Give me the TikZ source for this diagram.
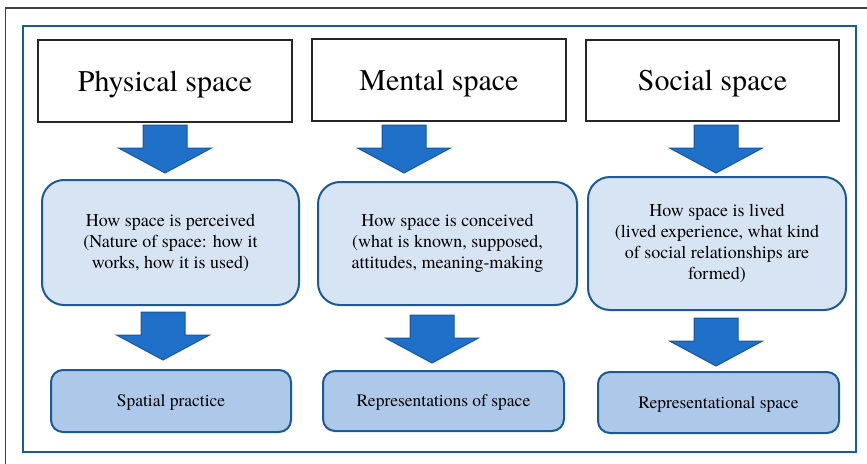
\documentclass[tikz,border=0pt]{standalone}
\usepackage{fontspec}
\setmainfont{TeX Gyre Termes}
\definecolor{frameblue}{HTML}{1B5A96}
\definecolor{arrowfill}{HTML}{1E70C8}
\definecolor{arrowline}{HTML}{17579C}
\definecolor{midfill}{HTML}{D7E4F3}
\definecolor{lowfill}{HTML}{ADC8E8}
\begin{document}
\begin{tikzpicture}[x=1pt,y=-1pt,
  topbox/.style={draw=black!85, line width=1.2pt, fill=white, inner sep=0pt,
    text depth=0pt, font=\fontsize{30}{34}\selectfont},
  midbox/.style={draw=frameblue, line width=2pt, fill=midfill, rounded corners=22pt,
    inner sep=0pt, align=center, font=\fontsize{18}{21}\selectfont},
  lowbox/.style={draw=frameblue, line width=2pt, fill=lowfill, rounded corners=12pt,
    inner sep=0pt, align=center, text depth=0pt, font=\fontsize{17.5}{21}\selectfont},
  blockarrow/.style={fill=arrowfill, draw=arrowline, line width=1pt, line join=miter}
]
\useasboundingbox (0,0) rectangle (867,463);
% outer frames
\draw[black!75, line width=1.5pt] (5.5,470) -- (5.5,8) -- (875,8);
\draw[frameblue, line width=2.5pt] (23,26) rectangle (856,452);

% top boxes
\node[topbox, minimum width=254pt, minimum height=82pt] (phys) at (165,81) {Physical space};
\node[topbox, minimum width=254pt, minimum height=82pt] (ment) at (439,80) {Mental space};
\node[topbox, minimum width=253pt, minimum height=81pt] (soc) at (712.5,80.5) {Social space};

% middle boxes
\node[midbox, minimum width=257pt, minimum height=125pt] (physmid) at (170.5,242.5)
  {How space is perceived\\(Nature of space: how it\\works, how it is used)};
\node[midbox, minimum width=259pt, minimum height=123pt] (mentmid) at (447.5,243.5)
  {How space is conceived\\(what is known, supposed,\\attitudes, meaning-making};
\node[midbox, minimum width=258pt, minimum height=133pt] (socmid) at (717,243.5)
  {How space is lived\\(lived experience, what kind\\of social relationships are\\formed)};

% bottom boxes
\node[lowbox, minimum width=240pt, minimum height=62pt] (physlow) at (171,401) {Spatial practice};
\node[lowbox, minimum width=241pt, minimum height=60pt] (mentlow) at (443.5,401) {Representations of space};
\node[lowbox, minimum width=241pt, minimum height=61pt] (soclow) at (718.5,402.5) {Representational space};

% block arrows: top-centre coordinates
\coordinate (a1) at (165,125);
\coordinate (a2) at (163,312);
\coordinate (a3) at (404,125);
\coordinate (a4) at (432,315);
\coordinate (a5) at (716,125);
\coordinate (a6) at (716,318);
\foreach \c in {a1,a2,a3,a4,a5,a6}{
  \draw[blockarrow] ([xshift=-22pt]\c) -- ([xshift=22pt]\c) -- ([xshift=22pt,yshift=-23pt]\c)
    -- ([xshift=46.5pt,yshift=-23pt]\c) -- ([yshift=-48pt]\c) -- ([xshift=-46.5pt,yshift=-23pt]\c)
    -- ([xshift=-22pt,yshift=-23pt]\c) -- cycle;
}
\end{tikzpicture}
\end{document}
